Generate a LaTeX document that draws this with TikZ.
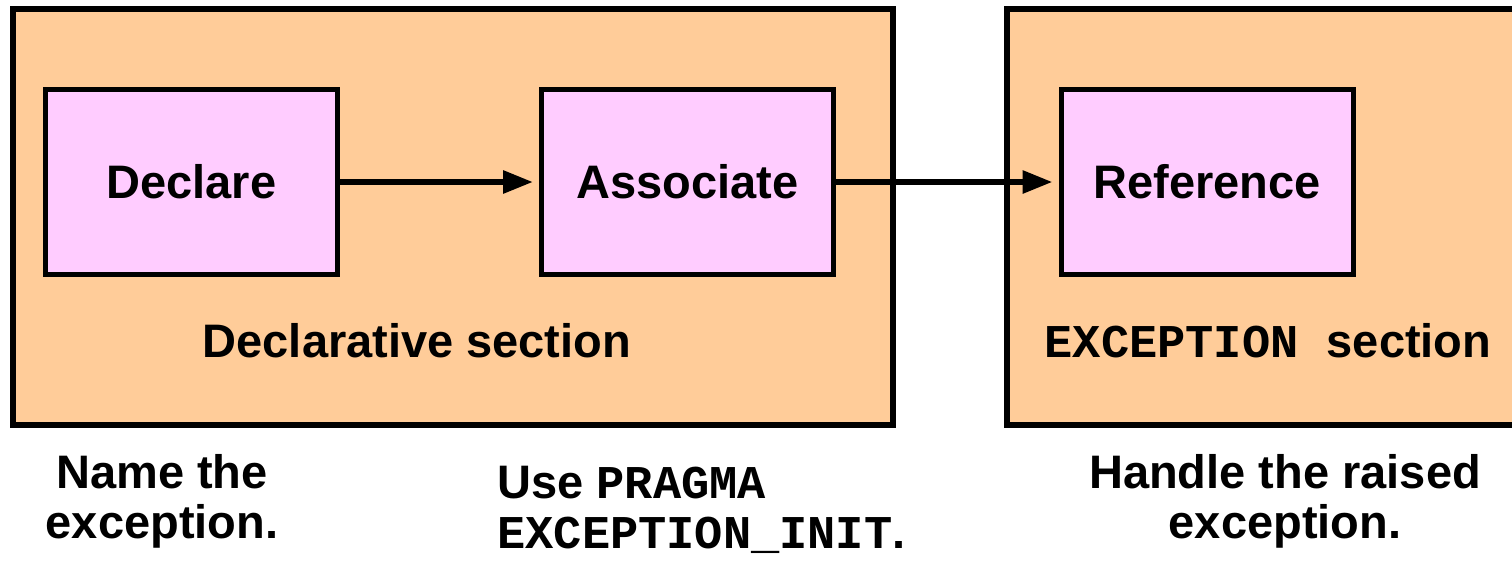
\documentclass[tikz,border=0pt]{standalone}
\usepackage{fontspec}
\usepackage{xcolor}
\setmainfont{Liberation Sans}
\newfontfamily\mono{Liberation Mono}
\usetikzlibrary{arrows.meta}

\definecolor{secfill}{HTML}{FFCC99}
\definecolor{boxfill}{HTML}{FFCCFF}

\begin{document}
\begin{tikzpicture}[
      x=0.5pt, y=-0.5pt,
      txt/.style={font=\bfseries\fontsize{23.5pt}{25pt}\selectfont},
      section/.style={draw, line width=3pt, fill=secfill, minimum width=440pt, minimum height=208pt, inner sep=0pt},
      phase/.style={draw, line width=2.5pt, fill=boxfill, minimum width=146pt, minimum height=92.5pt, txt},
      note/.style={txt, inner sep=0pt},
      flow/.style={line width=3pt, -{Triangle[length=15pt, width=11pt]}, shorten >=3pt}
    ]
    \useasboundingbox (0,0) rectangle (1512,563);
    \clip (0,0) rectangle (1512,563);
    % the two program sections
    \node[section] (declsec) at (453,217) {};
    \node[section, minimum width=262pt] (excsec) at (1269,217) {};
    \node[note, anchor=base] (decllabel) at (417,357) {Declarative section};
    \node[note, anchor=base] (exclabel) at (1268,357) {{\mono EXCEPTION }section};
    % the three steps
    \node[phase] (declare) at (191.5,182) {Declare};
    \node[phase] (associate) at (687.5,182) {Associate};
    \node[phase] (reference) at (1207,182) {Reference};
    \draw[flow] (declare) -- (associate);
    \draw[flow] (associate) -- (reference);
    % notes under the sections
    \node[note, align=center] (namenote) at (162,501) {Name the\\exception.};
    \node[note, align=left, anchor=west] (usenote) at (497,510) {Use {\mono PRAGMA}\\{\mono EXCEPTION\_INIT}.};
    \node[note, align=center] (handlenote) at (1285,501) {Handle the raised\\exception.};
\end{tikzpicture}
\end{document}
